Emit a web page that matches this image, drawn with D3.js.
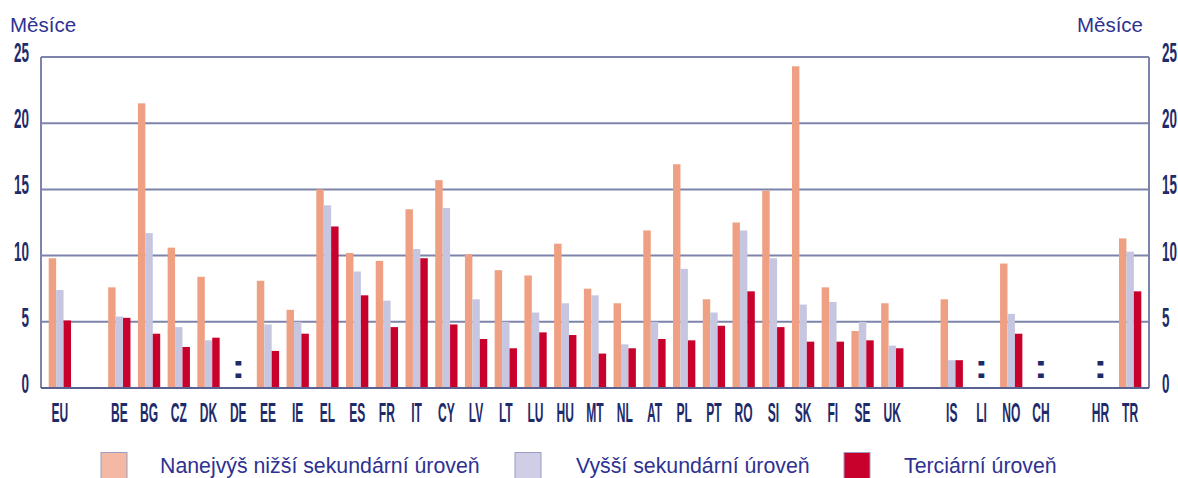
<!DOCTYPE html>
<html><head><meta charset="utf-8">
<script src="https://cdn.jsdelivr.net/npm/d3@7/dist/d3.min.js"></script>
<style>html,body{margin:0;padding:0;background:#fff;}svg{display:block;}</style>
</head><body>
<svg id="chart" width="1178" height="478"></svg>
<script>
const categories = ["EU","BE","BG","CZ","DK","DE","EE","IE","EL","ES","FR","IT","CY","LV","LT","LU","HU","MT","NL","AT","PL","PT","RO","SI","SK","FI","SE","UK","IS","LI","NO","CH","HR","TR"];
const gapsAfter = ["EU","UK","CH"];
const lowerSecondary = [9.8,7.6,21.5,10.6,8.4,null,8.1,5.9,15.0,10.2,9.6,13.5,15.7,10.1,8.9,8.5,10.9,7.5,6.4,11.9,16.9,6.7,12.5,14.9,24.3,7.6,4.3,6.4,6.7,null,9.4,null,null,11.3];
const upperSecondary = [7.4,5.4,11.7,4.6,3.6,null,4.8,5.0,13.8,8.8,6.6,10.5,13.6,6.7,5.0,5.7,6.4,7.0,3.3,5.0,9.0,5.7,11.9,9.8,6.3,6.5,5.0,3.2,2.1,null,5.6,null,null,10.3];
const tertiary = [5.1,5.3,4.1,3.1,3.8,null,2.8,4.1,12.2,7.0,4.6,9.8,4.8,3.7,3.0,4.2,4.0,2.6,3.0,3.7,3.6,4.7,7.3,4.6,3.5,3.5,3.6,3.0,2.1,null,4.1,null,null,7.3];
const seriesNames = ["Nanejvýš nižší sekundární úroveň","Vyšší sekundární úroveň","Terciární úroveň"];
const yTicks = [0,5,10,15,20,25];
const axisTitle = "Měsíce";

const barColors = ["#ef9f82","#c6c6e0","#c8002c"];
const legendColors = ["#f3b9a4","#d0cde6","#c8002c"];
const navy = "#1e2b6a";
const titleBlue = "#2e3192";
const gridColor = "#7d83aa";

const svg = d3.select("#chart");

const slots = [];
categories.forEach(c => { slots.push(c); if (gapsAfter.includes(c)) slots.push("gap_" + c); });

const x = d3.scaleBand().domain(slots).range([45, 1145]).paddingInner(0.25).paddingOuter(0.125);
const xs = d3.scaleBand().domain([0,1,2]).range([0, x.bandwidth()]).padding(0);
const y = d3.scaleLinear().domain([0,25]).range([388, 57]);

const plotLeft = 41, plotRight = 1149;

svg.append("g").selectAll("line").data(yTicks).join("line")
  .attr("x1", plotLeft).attr("x2", plotRight)
  .attr("y1", d => y(d)).attr("y2", d => y(d))
  .attr("stroke", gridColor).attr("stroke-width", 2);
svg.append("line").attr("x1", plotLeft).attr("x2", plotLeft).attr("y1", y(25)).attr("y2", y(0))
  .attr("stroke", gridColor).attr("stroke-width", 2);
svg.append("line").attr("x1", plotRight).attr("x2", plotRight).attr("y1", y(25)).attr("y2", y(0))
  .attr("stroke", gridColor).attr("stroke-width", 2);

const series = [lowerSecondary, upperSecondary, tertiary];
const gBars = svg.append("g");
series.forEach((vals, si) => {
  gBars.append("g").selectAll("rect")
    .data(categories.map((c, i) => ({c, v: vals[i]})).filter(d => d.v != null))
    .join("rect")
    .attr("x", d => x(d.c) + xs(si))
    .attr("width", xs.bandwidth())
    .attr("y", d => y(d.v))
    .attr("height", d => y(0) - y(d.v))
    .attr("fill", barColors[si]);
});
svg.append("line").attr("x1", plotLeft).attr("x2", plotRight).attr("y1", y(0)).attr("y2", y(0))
  .attr("stroke", "#5a6090").attr("stroke-width", 2);

// missing markers ":"
const missing = categories.filter((c, i) => lowerSecondary[i] == null && upperSecondary[i] == null && tertiary[i] == null);
svg.append("g").selectAll("text").data(missing).join("text")
  .attr("transform", d => `translate(${x(d) + x.bandwidth()/2},378) scale(1.25,1)`)
  .attr("text-anchor", "middle")
  .attr("font-family", "Liberation Sans, Arial, sans-serif")
  .attr("font-weight", "bold").attr("font-size", 33)
  .attr("fill", navy).text(":");

const condFont = "Liberation Sans, Arial, sans-serif";
svg.append("g").selectAll("text").data(categories).join("text")
  .attr("transform", d => `translate(${x(d) + x.bandwidth()/2},422) scale(0.43,1)`)
  .attr("text-anchor", "middle")
  .attr("font-family", condFont).attr("font-weight", "bold")
  .attr("font-size", 28)
  .attr("fill", navy).text(d => d);

svg.append("g").selectAll("text").data(yTicks).join("text")
  .attr("transform", d => `translate(29,${y(d) + 5}) scale(0.48,1)`)
  .attr("text-anchor", "end")
  .attr("font-family", condFont).attr("font-weight", "bold").attr("font-size", 28)
  .attr("fill", navy).text(d => d);
svg.append("g").selectAll("text").data(yTicks).join("text")
  .attr("transform", d => `translate(1162,${y(d) + 5}) scale(0.48,1)`)
  .attr("text-anchor", "start")
  .attr("font-family", condFont).attr("font-weight", "bold").attr("font-size", 28)
  .attr("fill", navy).text(d => d);

svg.append("text").attr("x", 10).attr("y", 32)
  .attr("font-family", "Liberation Sans, Arial, sans-serif").attr("font-size", 20.5)
  .attr("fill", titleBlue).text(axisTitle);
svg.append("text").attr("x", 1143).attr("y", 32).attr("text-anchor", "end")
  .attr("font-family", "Liberation Sans, Arial, sans-serif").attr("font-size", 20.5)
  .attr("fill", titleBlue).text(axisTitle);

const legendSwatchX = [101, 515, 844];
const legendTextX = [160, 576, 904];
const lg = svg.append("g").selectAll("g").data(seriesNames).join("g");
lg.append("rect")
  .attr("x", (d, i) => legendSwatchX[i]).attr("y", 452.5)
  .attr("width", 26).attr("height", 30)
  .attr("fill", (d, i) => legendColors[i])
  .attr("stroke", "#9b9cc2").attr("stroke-width", 1);
lg.append("text")
  .attr("x", (d, i) => legendTextX[i]).attr("y", 473)
  .attr("font-family", "Liberation Sans, Arial, sans-serif").attr("font-size", 21.3)
  .attr("fill", titleBlue).text(d => d);
</script>
</body></html>
